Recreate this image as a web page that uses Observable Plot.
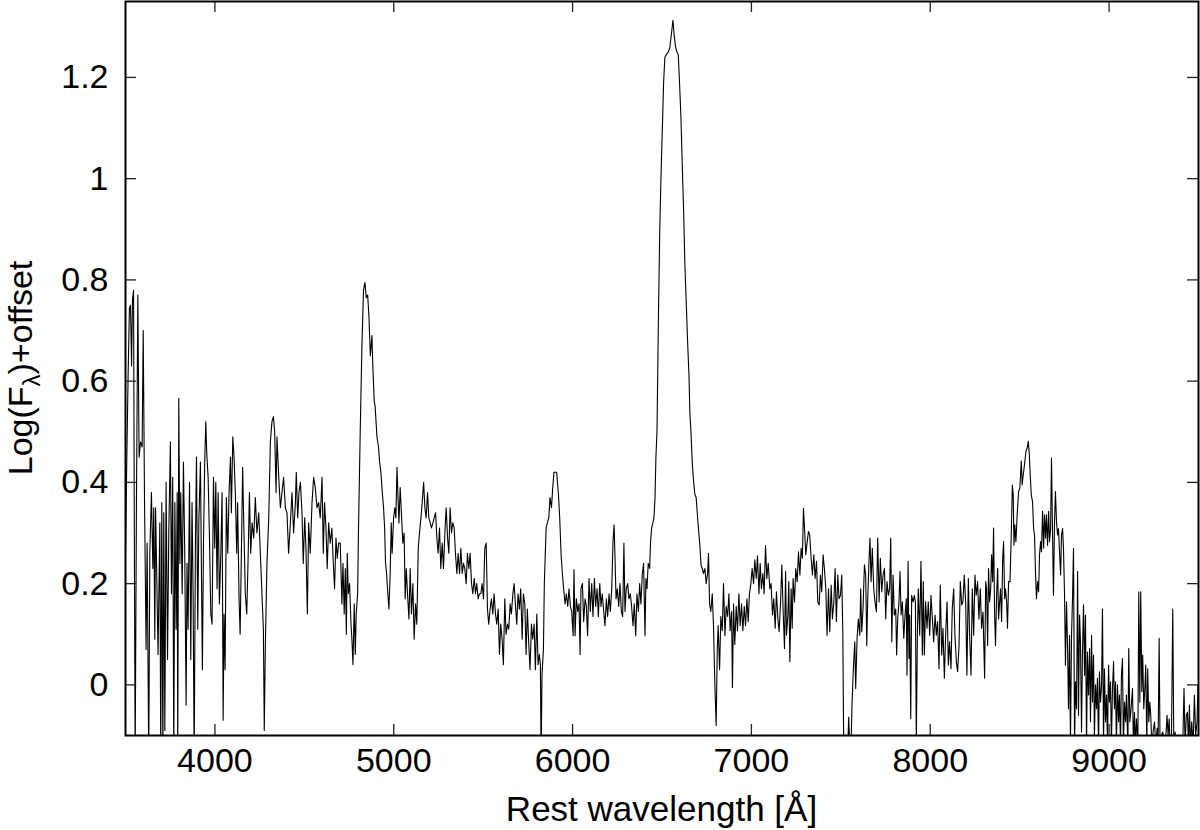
<!DOCTYPE html>
<html><head><meta charset="utf-8">
<script src="https://cdn.jsdelivr.net/npm/d3@7"></script>
<script src="https://cdn.jsdelivr.net/npm/@observablehq/plot@0.6"></script>
<style>html,body{margin:0;padding:0;background:#fff;} #chart{width:1200px;height:830px;}</style>
</head><body><div id="chart"></div>
<script>
// Tick values
const xTicks = [4000, 5000, 6000, 7000, 8000, 9000];
const yTicks = [0, 0.2, 0.4, 0.6, 0.8, 1, 1.2];

// Spectrum: rest wavelength (Å) and Log(F_lambda)+offset
const waveA = [3500,3507,3515,3522,3528,3534,3539,3545,3550,3554,3561,3569,3576,3584,3593,3599,3606,3615,3621,3630,3636,3645,3653,3658,3664,3668,3675,3682,3692,3697,3703,3709,3714,3720,3727,3735,3742,3751,3757,3764,3770,3776,3783,3789,3792,3798,3804,3809,3817,3824,3831,3839,3844,3850,3858,3865,3872,3878,3884,3891,3897,3904,3910,3919,3925,3930,3936,3943,3949,3954,3962,3969,3977,3984,3992,3999,4005,4012,4018,4025,4033,4040,4046,4051,4057,4064,4072,4079,4087,4092,4100,4107,4114,4122,4127,4135,4141,4148,4155,4163,4170,4178,4185,4193,4200,4208,4217,4226,4235,4245,4254,4263,4271,4276,4282,4291,4301,4310,4319,4327,4334,4342,4347,4357,4366,4375,4384,4394,4403,4412,4422,4431,4440,4450,4455,4463,4470,4478,4487,4494,4502,4509,4517,4524,4533,4543,4552,4561,4571,4580,4589,4599,4606,4613,4621,4628,4636,4645,4654,4662,4669,4677,4684,4692];
const fluxA = [0.26,0.44,0.62,0.745,0.75,0.63,0.76,0.78,0.24,-0.15,0.35,0.77,0.45,0.48,0.47,0.70,0.38,0.07,0.28,-0.15,0.26,0.38,0.23,0.35,0.09,0.35,0.21,0.06,0.32,-0.15,0.36,-0.15,0.34,-0.09,0.40,0.05,0.30,0.48,0.18,0.41,-0.15,0.36,0.11,0.38,-0.15,0.566,0.24,0.38,0.18,0.44,0.27,-0.04,0.24,0.11,0.40,0.05,0.36,0.18,-0.15,0.28,0.45,0.11,0.32,0.44,0.21,0.03,0.28,0.44,0.52,0.46,0.41,0.30,0.14,0.12,0.41,0.27,0.40,0.19,0.38,0.16,0.26,0.38,-0.07,0.14,0.03,0.37,0.26,0.38,0.45,0.34,0.49,0.45,0.38,0.26,0.36,0.17,0.10,0.26,0.43,0.29,0.18,0.14,0.24,0.38,0.26,0.32,0.29,0.37,0.30,0.34,0.26,0.18,0.11,-0.09,0.08,0.24,0.33,0.48,0.52,0.53,0.50,0.38,0.49,0.41,0.35,0.38,0.41,0.35,0.34,0.26,0.32,0.38,0.30,0.36,0.42,0.33,0.38,0.40,0.34,0.24,0.33,0.27,0.14,0.32,0.26,0.36,0.41,0.39,0.35,0.36,0.33,0.41,0.26,0.36,0.31,0.23,0.32,0.28,0.31,0.24,0.19,0.29,0.25,0.28];

const waveB = [4701,4710,4716,4723,4729,4735,4740,4746,4753,4761,4766,4772,4779,4785,4790,4798,4803,4813,4822,4831,4839,4846,4854,4861,4869,4878,4883,4891,4896,4906,4915,4921,4928,4936,4943,4949,4954,4960,4965,4973,4980,4986,4991,4999,5006,5012,5018,5023,5029,5036,5044,5051,5058,5064,5070,5077,5085,5092,5099,5107,5114,5122,5129,5137,5144,5152,5159,5167,5174,5181,5189,5196,5204,5211,5219,5226,5234,5241,5248,5256,5263,5271,5278,5286,5293,5301,5308,5315,5323,5330,5338,5345,5353,5360,5368,5375,5383,5390,5397,5405,5412,5420,5427,5435,5442,5450,5457,5464,5472,5479,5487,5494,5502,5509,5517,5524,5531,5539,5546,5554,5561,5569,5576,5584,5591,5598,5606,5613,5621,5628,5636,5643,5651,5658,5666,5673,5680,5688,5695,5703,5710,5718,5725,5733,5740,5747,5755,5762,5770,5777,5785,5792,5800,5807,5814,5820,5824,5829,5837,5842,5852,5859,5867,5874,5882,5889,5896];
const fluxB = [0.28,0.16,0.24,0.14,0.23,0.10,0.26,0.18,0.20,0.12,0.09,0.04,0.16,0.06,0.14,0.18,0.31,0.51,0.67,0.78,0.795,0.765,0.77,0.73,0.65,0.69,0.63,0.56,0.55,0.49,0.47,0.44,0.42,0.38,0.35,0.31,0.24,0.22,0.19,0.15,0.22,0.32,0.26,0.33,0.35,0.33,0.43,0.38,0.32,0.39,0.33,0.28,0.30,0.17,0.23,0.18,0.13,0.23,0.14,0.20,0.09,0.16,0.12,0.27,0.30,0.33,0.36,0.40,0.35,0.33,0.38,0.33,0.32,0.31,0.32,0.33,0.34,0.29,0.26,0.31,0.23,0.28,0.23,0.30,0.35,0.29,0.26,0.35,0.30,0.32,0.31,0.26,0.22,0.26,0.22,0.27,0.22,0.24,0.23,0.20,0.26,0.23,0.26,0.20,0.18,0.21,0.18,0.20,0.17,0.18,0.18,0.20,0.17,0.27,0.28,0.15,0.12,0.15,0.17,0.14,0.18,0.14,0.12,0.15,0.06,0.12,0.09,0.04,0.17,0.10,0.12,0.11,0.16,0.14,0.18,0.20,0.16,0.12,0.18,0.15,0.19,0.09,0.18,0.16,0.06,0.15,0.08,0.03,0.12,0.09,0.12,0.03,0.14,0.04,0.06,0.04,-0.15,0.02,0.07,0.20,0.31,0.32,0.33,0.37,0.35,0.39,0.42];

const waveC = [5902,5911,5921,5928,5936,5943,5950,5958,5965,5973,5980,5988,5995,6003,6008,6014,6021,6029,6036,6042,6047,6055,6062,6070,6077,6084,6092,6099,6107,6114,6122,6129,6137,6144,6152,6159,6166,6174,6181,6189,6196,6204,6211,6219,6226,6232,6237,6243,6250,6258,6265,6273,6280,6287,6293,6300,6308,6315,6323,6330,6338,6345,6353,6360,6368,6375,6382,6390,6397,6405,6410,6416,6423,6431,6436,6442,6449,6455,6461,6466,6472,6479,6487,6494,6502,6509,6516,6524,6535,6544,6554,6561,6569,6576,6584,6591,6598,6606,6613,6621,6628,6636,6643,6651,6656,6662,6669,6677,6684,6691,6699,6706,6712,6718,6725,6732,6740,6747,6755,6760,6766,6773,6781,6788,6796,6803,6809,6814,6822,6829,6837,6844,6852,6859,6867,6874,6881,6889,6894,6900,6907,6915,6922,6930,6937,6945,6952,6960,6967,6975,6982,6989,6997,7004,7012,7019,7027,7034,7042,7049,7056,7064,7071,7079,7086,7094];
const fluxC = [0.42,0.42,0.376,0.33,0.255,0.22,0.19,0.16,0.18,0.155,0.19,0.155,0.145,0.097,0.228,0.097,0.17,0.145,0.16,0.06,0.19,0.20,0.125,0.17,0.155,0.097,0.21,0.145,0.20,0.135,0.21,0.155,0.19,0.135,0.20,0.155,0.18,0.145,0.117,0.17,0.135,0.18,0.145,0.19,0.283,0.316,0.255,0.17,0.19,0.155,0.20,0.145,0.135,0.28,0.145,0.19,0.20,0.17,0.18,0.155,0.117,0.16,0.097,0.18,0.145,0.20,0.16,0.22,0.24,0.097,0.21,0.19,0.24,0.23,0.283,0.31,0.32,0.33,0.37,0.45,0.50,0.70,0.89,1.00,1.10,1.19,1.24,1.245,1.25,1.26,1.29,1.313,1.28,1.26,1.25,1.245,1.19,1.12,1.03,0.935,0.83,0.75,0.68,0.61,0.535,0.50,0.44,0.40,0.376,0.37,0.33,0.30,0.275,0.237,0.23,0.22,0.23,0.20,0.22,0.26,0.16,0.145,0.18,0.117,-0.005,-0.08,0.07,0.117,0.03,0.135,0.107,0.20,0.097,0.155,0.135,0.18,0.107,0.145,-0.005,0.16,0.08,0.155,0.107,0.18,0.117,0.16,0.107,0.155,0.117,0.17,0.125,0.18,0.20,0.23,0.20,0.247,0.21,0.255,0.18,0.24,0.19,0.22,0.18,0.275,0.21,0.24];

const waveD = [7103,7110,7118,7125,7133,7140,7148,7155,7163,7170,7177,7185,7191,7196,7204,7209,7215,7222,7228,7233,7241,7248,7256,7263,7271,7278,7285,7291,7297,7304,7312,7319,7326,7334,7341,7349,7356,7364,7371,7379,7386,7393,7401,7408,7416,7423,7431,7438,7446,7453,7461,7468,7475,7483,7490,7498,7505,7511,7516,7524,7531,7539,7544,7550,7557,7563,7570,7578,7583,7591,7598,7606,7611,7617,7624,7632,7639,7645,7650,7658,7663,7669,7676,7684,7691,7699,7706,7714,7721,7729,7736,7744,7751,7758,7766,7773,7779,7785,7792,7799,7807,7812,7818,7825,7831,7837,7844,7852,7859,7866,7870,7876,7881,7885,7891,7896,7904,7911,7917,7922,7928,7933,7941,7948,7956,7961,7967,7974,7982,7989,7997,8004,8012,8019,8027,8034,8041,8049,8056,8064,8071,8079,8086,8094,8101,8108,8116,8123,8131,8138,8146,8153,8161,8168,8176,8183,8190,8198,8205,8213,8220,8228,8235,8243,8250,8257,8265,8272,8280,8287,8295];
const fluxD = [0.19,0.20,0.138,0.17,0.112,0.184,0.13,0.105,0.164,0.237,0.15,0.072,0.224,0.098,0.138,0.204,0.046,0.19,0.112,0.21,0.164,0.23,0.204,0.263,0.217,0.27,0.25,0.349,0.309,0.257,0.283,0.303,0.296,0.25,0.217,0.257,0.21,0.244,0.164,0.158,0.217,0.184,0.257,0.23,0.19,0.098,0.19,0.105,0.197,0.13,0.164,0.23,0.125,0.217,0.17,0.177,0.217,0.105,-0.12,-0.12,-0.13,-0.12,-0.064,-0.12,-0.12,-0.034,0.032,0.085,-0.007,0.092,0.13,0.098,0.19,0.105,0.15,0.237,0.217,0.078,0.164,0.25,0.29,0.204,0.27,0.19,0.164,0.144,0.29,0.164,0.25,0.184,0.217,0.23,0.13,0.204,0.177,0.19,0.29,0.085,0.217,0.138,0.15,0.059,0.13,0.164,0.224,0.138,0.164,0.092,0.138,0.17,0.019,0.244,0.052,0.138,-0.067,0.177,0.164,0.177,0.164,-0.11,0.098,0.19,0.098,0.244,0.059,0.204,0.059,0.164,0.112,0.164,0.098,0.177,0.13,0.085,0.138,0.098,0.125,0.032,0.197,0.059,0.112,0.013,0.098,0.164,0.039,0.085,0.032,0.15,0.19,0.098,0.046,0.026,0.078,0.204,0.158,0.164,0.217,0.164,0.019,0.21,0.098,0.019,0.19,0.098,0.217,0.177,0.204,0.13,0.19,0.112,0.144];

const waveE = [8304,8310,8315,8321,8326,8332,8338,8343,8349,8354,8360,8365,8371,8377,8382,8388,8393,8399,8405,8410,8416,8421,8427,8432,8438,8446,8453,8459,8464,8468,8473,8479,8486,8494,8501,8509,8514,8520,8527,8535,8542,8548,8554,8559,8565,8572,8578,8583,8589,8594,8600,8606,8611,8617,8622,8628,8634,8639,8645,8650,8656,8662,8667,8673,8678,8684,8689,8695,8700,8706,8712,8717,8723,8729,8734,8740,8745,8751,8756,8762,8768,8773,8779,8784,8790,8796,8801,8807,8812,8818,8824,8829,8835,8840,8846,8851,8857,8863,8868,8874,8879,8885,8891,8896,8902,8907,8913,8918,8924,8930,8935,8941,8946,8952,8958,8963,8969,8974,8980,8986,8991,8997,9002,9008,9013,9019,9025,9030,9036,9041,9047,9053,9058,9064,9069,9075,9080,9086,9092,9097,9105,9110,9116,9123,9131,9136,9142,9147,9153,9161,9166,9172,9177,9183,9188,9194,9200,9205,9211,9216,9222,9228,9233,9239,9246,9254,9261,9269,9274,9280,9285,9293,9300,9309,9319,9324,9330,9336,9341,9349,9356,9362,9369,9377,9384,9393,9403,9412,9419,9425,9432,9438,9444,9449,9455,9462,9470,9477,9484,9492,9497];
const fluxE = [0.013,0.204,0.19,0.078,0.23,0.164,0.19,0.257,0.204,0.31,0.138,0.078,0.177,0.23,0.13,0.164,0.19,0.125,0.25,0.283,0.17,0.19,0.164,0.112,0.204,0.204,0.296,0.395,0.375,0.276,0.316,0.283,0.336,0.382,0.389,0.442,0.395,0.415,0.435,0.461,0.468,0.481,0.455,0.415,0.375,0.362,0.309,0.296,0.217,0.17,0.204,0.184,0.257,0.283,0.263,0.343,0.27,0.336,0.29,0.336,0.276,0.343,0.283,0.309,0.448,0.296,0.177,0.322,0.382,0.322,0.296,0.309,0.263,0.217,0.296,0.309,0.27,0.177,0.039,0.164,0.072,-0.047,0.098,-0.12,0.098,0.177,0.27,-0.12,0.006,-0.047,0.224,-0.06,0.138,0.085,-0.093,0.059,0.158,0.019,0.138,-0.12,0.065,-0.02,0.072,-0.073,0.098,-0.034,0.059,-0.1,0.0,-0.047,0.013,-0.12,0.026,-0.034,0.0,0.15,-0.12,0.032,-0.073,-0.02,-0.12,0.039,-0.034,0.006,-0.12,-0.007,0.046,-0.047,0.006,-0.12,0.0,-0.073,-0.02,-0.12,0.019,0.052,-0.12,-0.034,-0.073,-0.02,-0.12,0.072,-0.073,-0.047,-0.007,-0.12,-0.054,-0.12,-0.067,-0.12,0.184,-0.034,0.184,-0.013,0.059,-0.047,-0.007,0.039,-0.12,0.032,-0.073,-0.034,-0.06,-0.12,-0.093,-0.073,-0.12,-0.086,-0.12,0.092,-0.12,-0.1,-0.093,-0.12,-0.093,-0.06,-0.1,-0.067,-0.12,-0.1,0.15,-0.12,-0.093,-0.12,-0.1,-0.12,-0.1,-0.12,-0.007,-0.12,-0.06,-0.054,-0.12,-0.04,-0.12,-0.073,-0.12,-0.02,-0.1,-0.073,0.0];

const rows = [];
[[waveA, fluxA], [waveB, fluxB], [waveC, fluxC], [waveD, fluxD], [waveE, fluxE]].forEach(([w, f]) => {
  const n = Math.min(w.length, f.length);
  for (let i = 0; i < n; i++) rows.push({wavelength: w[i], flux: f[i]});
});

const W = 1200, H = 830, mL = 125, mR = 2, mT = 1, mB = 95;
const innerW = W - mL - mR, innerH = H - mT - mB;
const tickLen = 11;
const tickStyle = {stroke: "#222", strokeWidth: 1.3};

const chart = Plot.plot({
  width: W, height: H,
  marginLeft: mL, marginRight: mR, marginTop: mT, marginBottom: mB,
  style: {fontFamily: "'Liberation Sans', Arial, sans-serif", background: "#fff", color: "#000"},
  x: {domain: [3500, 9500]},
  y: {domain: [-0.1, 1.35]},
  marks: [
    Plot.line(rows, {x: "wavelength", y: "flux", stroke: "#000", strokeWidth: 1.1, clip: true}),
    Plot.ruleX(xTicks, {x: d => d, insetTop: innerH - tickLen, ...tickStyle}),
    Plot.ruleX(xTicks, {x: d => d, insetBottom: innerH - tickLen, ...tickStyle}),
    Plot.ruleY(yTicks, {y: d => d, insetRight: innerW - tickLen, ...tickStyle}),
    Plot.ruleY(yTicks, {y: d => d, insetLeft: innerW - tickLen, ...tickStyle}),
    Plot.frame({stroke: "#000", strokeWidth: 2}),
    Plot.axisX(xTicks, {tickSize: 0, tickPadding: 12, fontSize: 34, label: null, tickFormat: d => String(d)}),
    Plot.axisY(yTicks, {tickSize: 0, tickPadding: 17, fontSize: 34, label: null, tickFormat: d => String(d)})
  ]
});
document.getElementById("chart").appendChild(chart);

const svg = d3.select(chart);
svg.append("text")
  .attr("x", mL + innerW / 2).attr("y", H - 9)
  .attr("text-anchor", "middle").attr("font-size", 35).attr("fill", "#000")
  .text("Rest wavelength [Å]");
const yl = svg.append("text")
  .attr("transform", `translate(32,${mT + innerH / 2}) rotate(-90)`)
  .attr("text-anchor", "middle").attr("font-size", 34).attr("fill", "#000");
yl.append("tspan").text("Log(F");
yl.append("tspan").attr("font-size", 24).attr("dy", 8).text("λ");
yl.append("tspan").attr("dy", -8).text(")+offset");
</script>
</body></html>
